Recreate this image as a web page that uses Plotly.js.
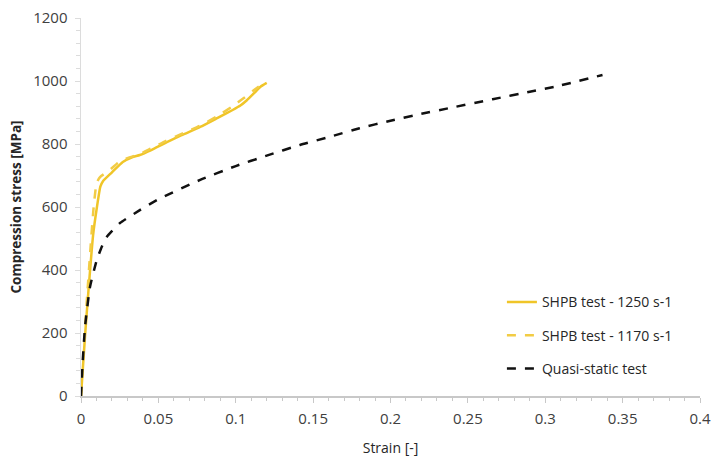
<!DOCTYPE html>
<html>
<head>
<meta charset="utf-8">
<script src="https://cdn.plot.ly/plotly-3.0.1.min.js"></script>
<style>html,body{margin:0;padding:0;background:#fff;}#chart{width:720px;height:465px;}</style>
</head>
<body>
<div id="chart"></div>
<script>
var shpb1250Strain = [0, 0.0026, 0.0047, 0.0078, 0.0103, 0.0125, 0.0142, 0.02, 0.027, 0.033, 0.038, 0.045, 0.0555, 0.065, 0.077, 0.088, 0.098, 0.103, 0.107, 0.112, 0.116, 0.12];
var shpb1250Stress = [0, 190, 327, 510, 600, 665, 682, 710, 743, 758, 765, 780, 806, 828, 854, 882, 908, 922, 938, 962, 982, 994];

var shpb1170Strain = [0, 0.002, 0.004, 0.006, 0.008, 0.0101, 0.0123, 0.018, 0.024, 0.03, 0.038, 0.045, 0.055, 0.065, 0.077, 0.088, 0.098, 0.105, 0.111, 0.118];
var shpb1170Stress = [0, 170, 320, 460, 590, 676, 695, 715, 740, 755, 768, 785, 810, 832, 858, 888, 920, 945, 968, 994];

var quasiStrain = [0, 0.001, 0.0026, 0.0058, 0.0101, 0.0135, 0.0166, 0.0252, 0.038, 0.049, 0.077, 0.1, 0.12, 0.1415, 0.163, 0.18, 0.2, 0.22, 0.238, 0.266, 0.29, 0.309, 0.337];
var quasiStress = [0, 100, 219, 346, 430, 475, 505, 549, 590, 622, 686, 730, 763, 797, 826, 850, 874, 896, 914, 942, 966, 985, 1019];

var traces = [
  {x: shpb1250Strain, y: shpb1250Stress, mode: 'lines', name: 'SHPB test - 1250 s-1', legendgroup: 'a',
   line: {color: '#F0C528', width: 2.5, shape: 'spline', smoothing: 0.5}},
  {x: shpb1170Strain, y: shpb1170Stress, mode: 'lines', name: 'SHPB test - 1170 s-1', legendgroup: 'b',
   line: {color: '#F2CC45', width: 2.5, dash: 'dash', shape: 'spline', smoothing: 0.5}},
  {x: quasiStrain, y: quasiStress, mode: 'lines', name: 'Quasi-static test', legendgroup: 'c',
   line: {color: '#111111', width: 2.5, dash: 'dash', shape: 'spline', smoothing: 0.5}}
];

var layout = {
  width: 720, height: 465,
  margin: {l: 81, r: 20, t: 18, b: 69},
  paper_bgcolor: '#ffffff', plot_bgcolor: '#ffffff',
  font: {family: 'Open Sans, sans-serif', color: '#404040', size: 14},
  showlegend: true,
  legend: {x: 0.68, y: 0.29, xanchor: 'left', yanchor: 'top', bgcolor: 'rgba(0,0,0,0)',
           font: {size: 14, color: '#262626'}, tracegroupgap: 12, itemwidth: 30},
  xaxis: {
    range: [0, 0.4], tick0: 0, dtick: 0.05, showgrid: false, zeroline: false,
    showline: true, linecolor: '#c8c8c8', linewidth: 1.5,
    ticks: 'outside', ticklen: 5, tickcolor: '#c8c8c8', ticklabelstandoff: 3,
    minor: {dtick: 0.01, ticks: 'outside', ticklen: 3, tickcolor: '#c8c8c8', showgrid: false},
    tickfont: {size: 15, color: '#404040'},
    title: {text: 'Strain [-]', font: {size: 14, color: '#262626'}, standoff: 16}
  },
  yaxis: {
    range: [0, 1200], tick0: 0, dtick: 200, showgrid: false, zeroline: false,
    showline: true, linecolor: '#dcdcdc', linewidth: 1.5,
    ticks: 'outside', ticklen: 5, tickcolor: '#dcdcdc', ticklabelstandoff: 4,
    minor: {dtick: 40, ticks: 'outside', ticklen: 4, tickcolor: '#dcdcdc', showgrid: false},
    tickfont: {size: 15, color: '#404040'},
    title: {text: '<b>Compression stress [MPa]</b>', font: {size: 13.5, color: '#262626'}, standoff: 8}
  }
};

Plotly.newPlot('chart', traces, layout, {displayModeBar: false, staticPlot: true});
</script>
</body>
</html>
